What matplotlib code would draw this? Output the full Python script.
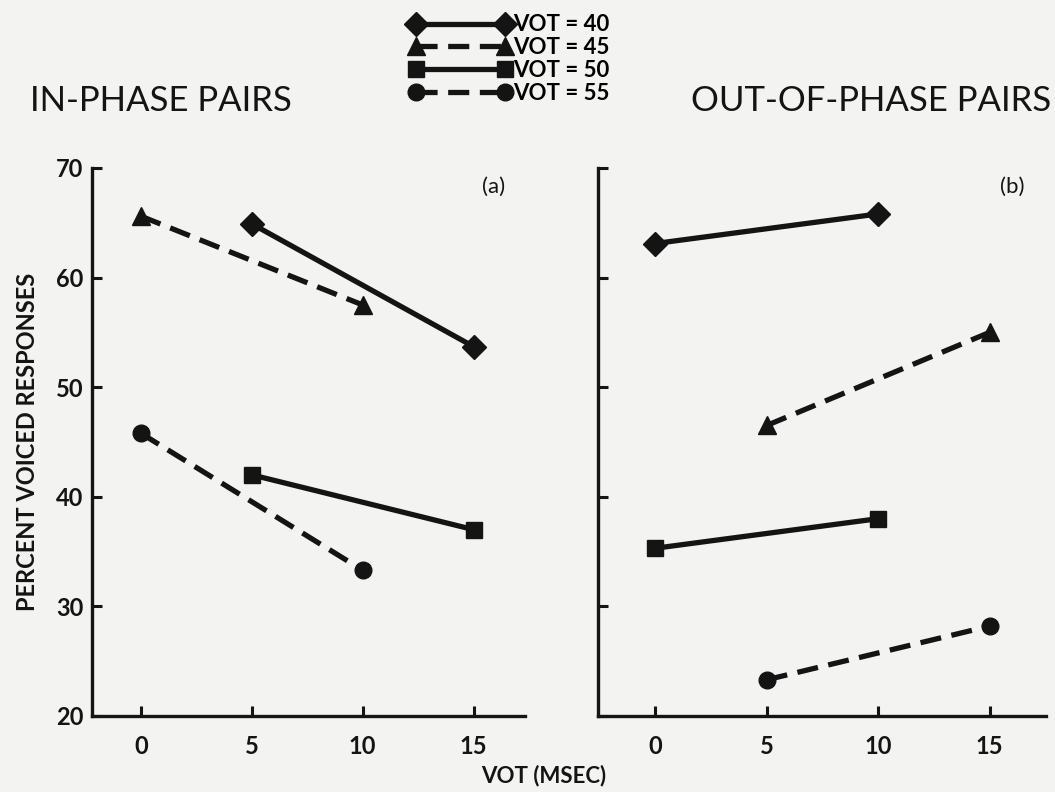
import matplotlib.pyplot as plt
from matplotlib.ticker import FixedLocator

# series labels (standard VOT of the pair)
labels = ["VOT = 40", "VOT = 45", "VOT = 50", "VOT = 55"]

# (a) in-phase pairs: x = VOT difference (msec), y = percent voiced
in_x = [[5, 15], [0, 10], [5, 15], [0, 10]]
in_y = [[64.9, 53.7], [65.6, 57.5], [42.0, 37.0], [45.8, 33.3]]

# (b) out-of-phase pairs
out_x = [[0, 10], [5, 15], [0, 10], [5, 15]]
out_y = [[63.1, 65.8], [46.5, 55.0], [35.3, 38.0], [23.3, 28.2]]

x_ticks = [0, 5, 10, 15]
y_ticks = [20, 30, 40, 50, 60, 70]

INK = "#141414"
BG = "#f3f3f1"
STYLES = [
    dict(marker="D", ls="-", ms=12),
    dict(marker="^", ls=(0, (4, 2)), ms=13),
    dict(marker="s", ls="-", ms=11),
    dict(marker="o", ls=(0, (4, 2)), ms=12),
]

plt.rcParams["font.family"] = ["Lato", "DejaVu Sans"]

fig = plt.figure(figsize=(10.55, 7.92), dpi=100, facecolor=BG)
ax_a = fig.add_axes([0.0872, 0.096, 0.410, 0.692])
ax_b = fig.add_axes([0.567, 0.096, 0.424, 0.692])


def style_axis(ax, xlim, show_ylabels):
    ax.set_facecolor(BG)
    ax.set_xlim(*xlim)
    ax.set_ylim(20, 70)
    for side in ("top", "right"):
        ax.spines[side].set_visible(False)
    for side in ("left", "bottom"):
        ax.spines[side].set_linewidth(2.4)
        ax.spines[side].set_color(INK)
    ax.xaxis.set_major_locator(FixedLocator(x_ticks))
    ax.yaxis.set_major_locator(FixedLocator(y_ticks))
    ax.tick_params(direction="in", length=7, width=2.2, colors=INK,
                   labelsize=17)
    ax.tick_params(axis="x", pad=14)
    ax.tick_params(axis="y", pad=6)
    for t in ax.get_xticklabels() + ax.get_yticklabels():
        t.set_fontweight("bold")
    if not show_ylabels:
        ax.set_yticklabels([])


def draw(ax, xs, ys):
    lines = []
    for x, y, st in zip(xs, ys, STYLES):
        (ln,) = ax.plot(x, y, color=INK, lw=3.8, marker=st["marker"],
                        ms=st["ms"], ls=st["ls"], mfc=INK, mec=INK,
                        dash_capstyle="butt", clip_on=False)
        lines.append(ln)
    return lines


lines = draw(ax_a, in_x, in_y)
draw(ax_b, out_x, out_y)

style_axis(ax_a, (-2.2, 17.3), True)
style_axis(ax_b, (-2.55, 17.5), False)

ax_a.text(0.928, 0.965, "(a)", transform=ax_a.transAxes, fontsize=16,
          color=INK, ha="center", va="center")
ax_b.text(0.926, 0.965, "(b)", transform=ax_b.transAxes, fontsize=16,
          color=INK, ha="center", va="center")

ax_a.set_ylabel("PERCENT VOICED RESPONSES", fontsize=17, color=INK,
                fontweight="bold", labelpad=12)
fig.text(0.515, 0.012, "VOT (MSEC)", fontsize=16, color=INK, ha="center",
         fontweight="bold")

fig.text(0.028, 0.86, "IN-PHASE PAIRS", fontsize=25, color=INK)
fig.text(0.996, 0.86, "OUT-OF-PHASE PAIRS", fontsize=25, color=INK,
         ha="right")

leg = fig.legend(lines, labels, loc="upper center",
                 bbox_to_anchor=(0.483, 1.0), frameon=False, numpoints=2,
                 handlelength=4.6, handletextpad=0.05, labelspacing=0.08,
                 fontsize=16, borderaxespad=0.25)
for t in leg.get_texts():
    t.set_fontweight("bold")

fig.savefig("out.png", dpi=100, facecolor=BG)
